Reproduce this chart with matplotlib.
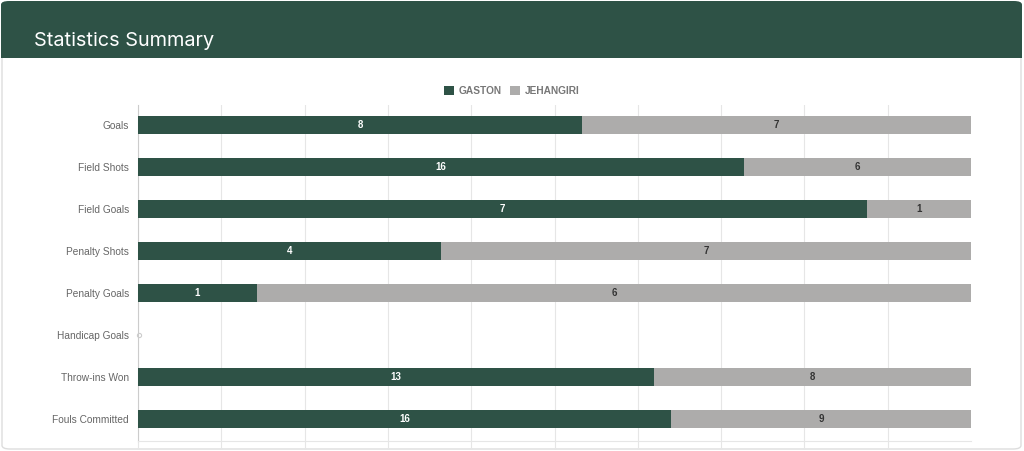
import matplotlib
matplotlib.use('Agg')
import matplotlib.pyplot as plt
from matplotlib.patches import FancyBboxPatch, Rectangle
import numpy as np

categories = ['Goals', 'Field Shots', 'Field Goals', 'Penalty Shots', 'Penalty Goals',
              'Handicap Goals', 'Throw-ins Won', 'Fouls Committed']
gaston = [8, 16, 7, 4, 1, 0, 13, 16]
jehangiri = [7, 6, 1, 7, 6, 0, 8, 9]

GREEN = '#2e5246'
GRAY = '#adacab'
FONT = 'Liberation Sans'

W, H = 1024, 451
fig = plt.figure(figsize=(W / 100, H / 100), dpi=100)
fig.patch.set_facecolor('white')

# card + header
card = FancyBboxPatch((2 / W, 2 / H), 1019 / W, 446 / H,
                      boxstyle='round,pad=0,rounding_size=0.008',
                      transform=fig.transFigure, facecolor='white',
                      edgecolor='#dddddd', linewidth=1.0, zorder=-3)
fig.patches.append(card)
head = FancyBboxPatch((1 / W, (H - 58) / H), 1021 / W, 57 / H,
                      boxstyle='round,pad=0,rounding_size=0.008',
                      transform=fig.transFigure, facecolor=GREEN,
                      edgecolor='none', zorder=-2)
fig.patches.append(head)
fig.patches.append(Rectangle((1 / W, (H - 58) / H), 1021 / W, 20 / H,
                             transform=fig.transFigure, facecolor=GREEN,
                             edgecolor='none', zorder=-2))
fig.text(34 / W, 1 - 46.5 / H, 'Statistics Summary', color='white', fontsize=14.3,
         family='Inter', va='baseline', ha='left')

ax = fig.add_axes([138 / W, 10 / H, 833 / W, 336 / H])
ax.patch.set_alpha(0)
tot = np.array(gaston, dtype=float) + np.array(jehangiri, dtype=float)
safe = np.where(tot == 0, 1, tot)
g_pct = np.array(gaston) / safe * 100
j_pct = np.array(jehangiri) / safe * 100
y = np.arange(len(categories))

ax.barh(y, g_pct, height=0.43, color=GREEN, label='GASTON', zorder=3)
ax.barh(y, j_pct, left=g_pct, height=0.43, color=GRAY, label='JEHANGIRI', zorder=3)

for i in range(len(categories)):
    if tot[i] == 0:
        ax.plot([0.15], [i], marker='o', ms=3, mfc='none', mec='#cccccc', mew=0.8,
                zorder=4, clip_on=False)
        continue
    ax.text(g_pct[i] / 2, i, str(gaston[i]), color='white', fontsize=7,
            family=FONT, fontweight='bold', ha='center', va='center', zorder=5)
    ax.text(g_pct[i] + j_pct[i] / 2, i, str(jehangiri[i]), color='#333333', fontsize=7,
            family=FONT, fontweight='bold', ha='center', va='center', zorder=5)

ax.set_xlim(0, 100)
ax.set_ylim(7.52, -0.476)
ax.set_yticks(y)
ax.set_yticklabels(categories, fontsize=7.3, color='#666666', family=FONT)
ax.set_xticks(np.arange(0, 100, 10))
ax.set_xticklabels([])
ax.tick_params(axis='x', length=6, color='#e6e6e6', width=0.8)
ax.tick_params(axis='y', length=0, pad=6.5)
ax.grid(axis='x', color='#e6e6e6', linewidth=0.8, zorder=0)
for s in ['top', 'right']:
    ax.spines[s].set_visible(False)
ax.spines['bottom'].set_color('#e6e6e6')
ax.spines['left'].set_color('#cccccc')
ax.spines['left'].set_linewidth(0.8)

leg = fig.legend(loc='center', bbox_to_anchor=(512 / W, 1 - 91 / H), ncol=2,
                 frameon=False, handlelength=0.95, handleheight=0.95,
                 handletextpad=0.5, columnspacing=0.8,
                 prop={'size': 7.3, 'weight': 'bold', 'family': FONT})
for t in leg.get_texts():
    t.set_color('#777777')

fig.savefig('out.png', dpi=100)
